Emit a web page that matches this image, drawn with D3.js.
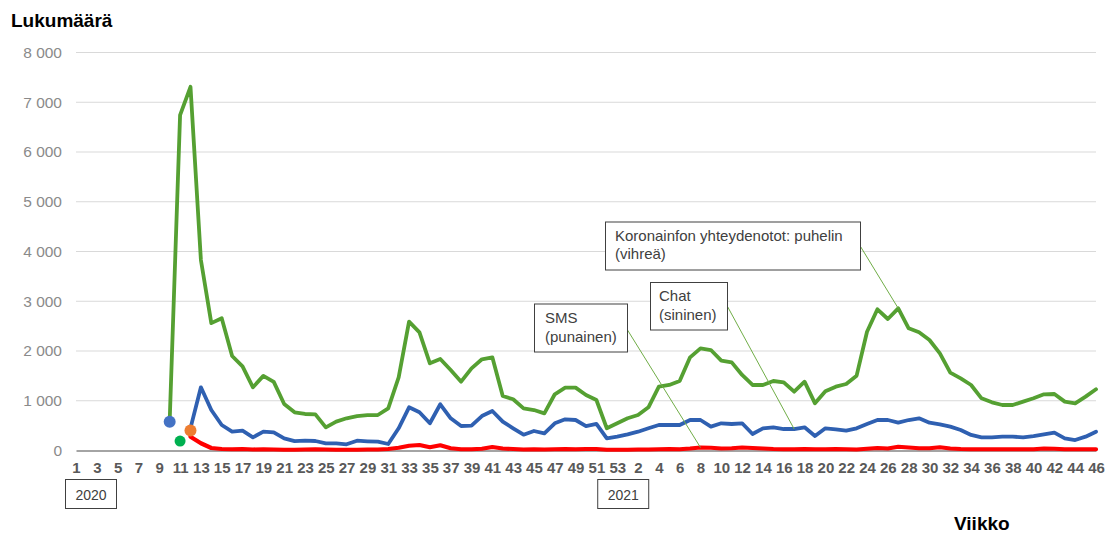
<!DOCTYPE html>
<html>
<head>
<meta charset="utf-8">
<script src="https://cdn.jsdelivr.net/npm/d3@7"></script>
<style>
  html, body { margin: 0; padding: 0; background: #ffffff; }
  svg { display: block; }
</style>
</head>
<body>
<svg id="chart" width="1116" height="534"></svg>
<script>
// ---------- DATA ----------
const weeks2020 = ["1","2","3","4","5","6","7","8","9","10","11","12","13","14","15","16","17","18","19","20",
  "21","22","23","24","25","26","27","28","29","30","31","32","33","34","35","36","37","38","39","40",
  "41","42","43","44","45","46","47","48","49","50","51","52","53"];
const weeks2021 = ["1","2","3","4","5","6","7","8","9","10","11","12","13","14","15","16","17","18","19","20",
  "21","22","23","24","25","26","27","28","29","30","31","32","33","34","35","36","37","38","39","40",
  "41","42","43","44","45","46"];
const years = ["2020", "2021"];
const categories = weeks2020.map(w => "2020-" + w).concat(weeks2021.map(w => "2021-" + w));
const tickLabels = weeks2020.concat(weeks2021);

// Koronainfon yhteydenotot: puhelin (green)
const phone = [
  null, null, null, null, null, null, null, null, null, 590,
  6740, 7310, 3830, 2560, 2660, 1900, 1690, 1270, 1500, 1380,
  935, 768, 734, 727, 466, 580, 647, 693, 713, 713,
  848, 1471, 2589, 2375, 1752, 1839, 1618, 1383, 1652, 1833,
  1873, 1095, 1029, 848, 814, 747, 1130, 1263, 1263, 1115,
  1015, 446, 547, 647, 713, 868, 1283, 1317, 1397, 1873,
  2054, 2020, 1806, 1772, 1518, 1317, 1317, 1397, 1370, 1182,
  1383, 948, 1190, 1283, 1337, 1504, 2388, 2838, 2643, 2858,
  2456, 2375, 2221, 1953, 1564, 1451, 1317, 1049, 969, 915,
  915, 982, 1049, 1129, 1136, 982, 948, 1082, 1230
];
// Chat (blue)
const chat = [
  null, null, null, null, null, null, null, null, null, null,
  null, 450, 1270, 814, 513, 378, 398, 265, 378, 366,
  245, 190, 197, 191, 145, 145, 125, 197, 185, 177,
  131, 446, 868, 768, 547, 929, 647, 492, 499, 693,
  794, 579, 446, 318, 392, 345, 547, 627, 613, 492,
  533, 245, 278, 325, 378, 446, 513, 513, 513, 613,
  613, 479, 547, 533, 547, 332, 446, 466, 432, 432,
  466, 291, 446, 426, 398, 446, 533, 613, 613, 559,
  613, 647, 559, 526, 479, 412, 312, 265, 265, 278,
  278, 265, 291, 325, 358, 245, 211, 278, 378
];
// SMS (red)
const sms = [
  null, null, null, null, null, null, null, null, null, null,
  null, 277, 145, 50, 30, 25, 30, 20, 25, 20,
  15, 15, 20, 25, 20, 15, 15, 15, 20, 20,
  30, 55, 95, 110, 65, 105, 45, 25, 25, 35,
  70, 40, 30, 20, 25, 20, 25, 30, 25, 30,
  30, 15, 15, 15, 20, 20, 25, 30, 25, 40,
  60, 55, 40, 45, 60, 50, 40, 30, 25, 25,
  30, 25, 25, 30, 25, 20, 35, 50, 40, 75,
  60, 45, 45, 65, 40, 30, 25, 25, 25, 25,
  25, 25, 25, 40, 35, 25, 25, 25, 25
];
// single start markers
const markerCategories = ["2020-10", "2020-11", "2020-12"];
const markerValues = [580, 190, 400];
const markerColors = ["#4472c4", "#00b050", "#ed7d31"];

const yTicks = [0, 1000, 2000, 3000, 4000, 5000, 6000, 7000, 8000];

// annotation texts and the point each one points to
const annotationLines = [
  ["SMS", "(punainen)"],
  ["Chat", "(sininen)"],
  ["Koronainfon yhteydenotot: puhelin", "(vihreä)"]
];
const annotationTargets = ["2021-8", "2021-17", "2021-27"];

// ---------- LAYOUT ----------
const svg = d3.select("#chart");
const FONT = "'Liberation Sans', Arial, sans-serif";
const plot = { left: 76, right: 1096, top: 52.5, bottom: 450.5 };

const x = d3.scalePoint().domain(categories).range([plot.left, plot.right]);
const y = d3.scaleLinear().domain([0, 8000]).range([plot.bottom, plot.top]);

// gridlines
svg.append("g")
  .selectAll("line")
  .data(yTicks.filter(d => d > 0))
  .join("line")
  .attr("x1", plot.left).attr("x2", plot.right)
  .attr("y1", d => y(d)).attr("y2", d => y(d))
  .attr("stroke", "#d9d9d9").attr("stroke-width", 1);

// y axis labels
const yAxis = d3.axisLeft(y)
  .tickValues(yTicks)
  .tickSize(0)
  .tickPadding(0)
  .tickFormat(d => d3.format(",")(d).replace(/,/g, " "));
const gy = svg.append("g").attr("transform", "translate(62,0)").call(yAxis);
gy.select(".domain").remove();
gy.selectAll("text")
  .attr("font-family", FONT).attr("font-size", "15.5px").attr("fill", "#8a8a8a");

// x axis
const xAxis = d3.axisBottom(x)
  .tickValues(categories.filter((c, i) => i % 2 === 0))
  .tickSize(0)
  .tickPadding(0)
  .tickFormat(c => tickLabels[categories.indexOf(c)]);
const gx = svg.append("g").attr("transform", `translate(0,${plot.bottom})`).call(xAxis);
gx.select(".domain").attr("stroke", "#868686").attr("stroke-width", 1.5);
gx.selectAll("text")
  .attr("font-family", FONT).attr("font-size", "15px").attr("font-weight", "bold")
  .attr("fill", "#595959").attr("dy", "1.5em");

// year boxes
const yearAnchor = ["2020-1", "2020-53"];
const yearOffset = [-10.5, -19.5];
years.forEach((yr, k) => {
  const bx = x(yearAnchor[k]) + yearOffset[k];
  const g = svg.append("g").attr("transform", `translate(${bx},479.5)`);
  g.append("rect").attr("width", 51).attr("height", 29)
    .attr("fill", "#fff").attr("stroke", "#404040").attr("stroke-width", 1);
  g.append("text").attr("x", 25.5).attr("y", 20)
    .attr("text-anchor", "middle")
    .attr("font-family", FONT).attr("font-size", "14px").attr("fill", "#404040")
    .text(yr);
});

// lines
const line = d3.line()
  .defined(d => d.v != null)
  .x(d => x(d.c))
  .y(d => y(d.v));

const series = [
  { values: phone, color: "#55a032", w: 3.8 },
  { values: chat, color: "#2f60b1", w: 3.8 },
  { values: sms, color: "#ff0000", w: 4.2 }
];
series.forEach(s => {
  svg.append("path")
    .datum(categories.map((c, i) => ({ c, v: s.values[i] })))
    .attr("fill", "none")
    .attr("stroke", s.color)
    .attr("stroke-width", s.w)
    .attr("stroke-linejoin", "round")
    .attr("stroke-linecap", "round")
    .attr("d", line);
});

// start markers
svg.append("g")
  .selectAll("circle")
  .data(markerCategories.map((c, i) => ({ c, v: markerValues[i], col: markerColors[i] })))
  .join("circle")
  .attr("cx", d => x(d.c))
  .attr("cy", d => y(d.v))
  .attr("r", (d, i) => i === 1 ? 5.5 : 6)
  .attr("fill", d => d.col);

// annotations
const boxes = [
  { x: 534.5, y: 304, w: 93, h: 48, tx: 545, b1: 323, b2: 342, ax: 627.5, ay: 330, series: sms },
  { x: 650.5, y: 282.5, w: 77, h: 47.5, tx: 659, b1: 301, b2: 320, ax: 727.5, ay: 306.5, series: chat },
  { x: 605.5, y: 222, w: 255, h: 48, tx: 615, b1: 240.5, b2: 259, ax: 860.5, ay: 246.5, series: phone }
];
boxes.forEach((b, k) => {
  const idx = categories.indexOf(annotationTargets[k]);
  svg.append("line")
    .attr("x1", b.ax).attr("y1", b.ay)
    .attr("x2", x(annotationTargets[k])).attr("y2", y(b.series[idx]))
    .attr("stroke", "#70ad47").attr("stroke-width", 1);
  svg.append("rect")
    .attr("x", b.x).attr("y", b.y).attr("width", b.w).attr("height", b.h)
    .attr("fill", "#fff").attr("stroke", "#404040").attr("stroke-width", 1);
  const t = svg.append("text")
    .attr("font-family", FONT).attr("font-size", "15px").attr("fill", "#404040");
  t.append("tspan").attr("x", b.tx).attr("y", b.b1).text(annotationLines[k][0]);
  t.append("tspan").attr("x", b.tx).attr("y", b.b2).text(annotationLines[k][1]);
});

// axis titles
svg.append("text")
  .attr("x", 11).attr("y", 27)
  .attr("font-family", FONT).attr("font-size", "19px").attr("font-weight", "bold")
  .attr("fill", "#000")
  .text("Lukumäärä");
svg.append("text")
  .attr("x", 954).attr("y", 530)
  .attr("font-family", FONT).attr("font-size", "19px").attr("font-weight", "bold")
  .attr("fill", "#000")
  .text("Viikko");
</script>
</body>
</html>
